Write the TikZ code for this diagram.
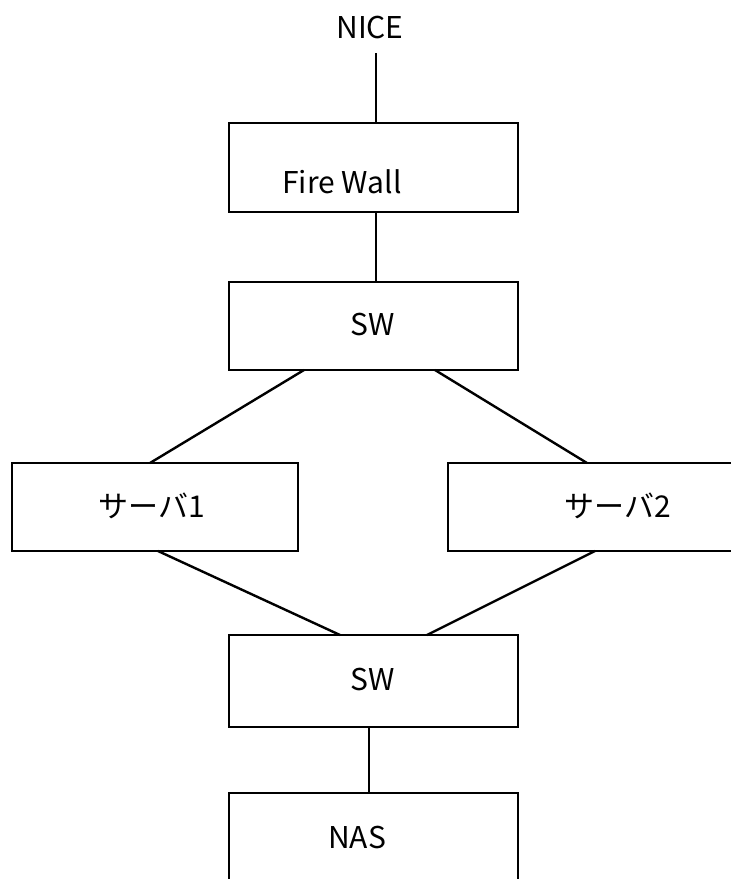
\documentclass[tikz,border=0pt]{standalone}
\usepackage{fontspec}
\setmainfont{Noto Sans CJK JP}
\begin{document}
\begin{tikzpicture}[x=1pt,y=-1pt,
  box/.style={draw, line width=2.5pt, inner sep=0pt, outer sep=0pt},
  lbl/.style={anchor=base, inner sep=0pt, font=\fontsize{30}{36}\selectfont},
  conn/.style={line width=2.4pt}]
\useasboundingbox (0,0) rectangle (731,879);
\clip (0,0) rectangle (731,879);
% boxes
\node[box, minimum width=289pt, minimum height=89pt] (fw)  at (373.5,167.5) {};
\node[box, minimum width=289pt, minimum height=88pt] (sw1) at (373.5,326) {};
\node[box, minimum width=286pt, minimum height=88pt] (s1)  at (155,507) {};
\node[box, minimum width=312pt, minimum height=88pt] (s2)  at (604,507) {};
\node[box, minimum width=289pt, minimum height=92pt] (sw2) at (373.5,681) {};
\node[box, minimum width=289pt, minimum height=107pt] (nas) at (373.5,846.5) {};
% labels
\node[lbl] (nice)   at (370,38)  {NICE};
\node[lbl] (fwt)    at (342,193) {Fire Wall};
\node[lbl] (sw1t)   at (373,335) {SW};
\node[lbl] (s1t)    at (152,517) {サーバ1};
\node[lbl] (s2t)    at (618,517) {サーバ2};
\node[lbl] (sw2t)   at (373,690) {SW};
\node[lbl] (nast)   at (357,848) {NAS};
% connectors
\coordinate (niceend) at (376,53);
\draw[conn] (niceend) -- (niceend |- fw.north);
\draw[conn] ([xshift=2.5pt]fw.south) -- ([xshift=2.5pt]sw1.north);
\draw[conn] ([xshift=75pt]sw1.south west) -- ([xshift=138pt]s1.north west);
\draw[conn] ([xshift=206pt]sw1.south west) -- ([xshift=139pt]s2.north west);
\draw[conn] ([xshift=146pt]s1.south west) -- ([xshift=111pt]sw2.north west);
\draw[conn] ([xshift=147pt]s2.south west) -- ([xshift=198pt]sw2.north west);
\draw[conn] ([xshift=140pt]sw2.south west) -- ([xshift=140pt]nas.north west);
\end{tikzpicture}
\end{document}
